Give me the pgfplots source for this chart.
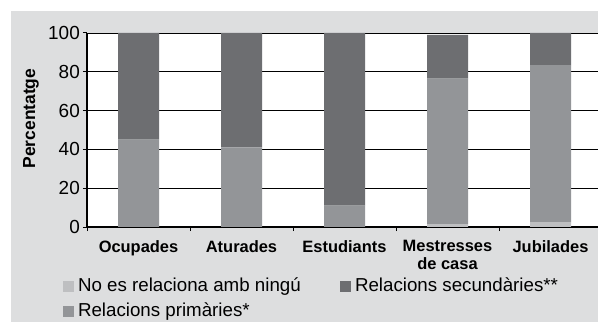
\documentclass[border=0pt]{standalone}
\usepackage{fontspec}
\setmainfont{Liberation Sans}
\usepackage{pgfplots}
\pgfplotsset{compat=1.18}
\definecolor{bgc}{RGB}{221,222,223}
\definecolor{cnone}{RGB}{190,191,193}
\definecolor{cprim}{RGB}{147,149,152}
\definecolor{csec}{RGB}{109,110,113}
\begin{document}
\begin{tikzpicture}
\path[use as bounding box] (0,0) rectangle (598bp,322bp);
\fill[bgc] (11bp,0) rectangle (598bp,311bp);
\begin{axis}[
  at={(87bp,95bp)}, anchor=south west,
  scale only axis, width=511bp, height=194bp,
  axis background/.style={fill=white},
  ybar stacked, bar width=41bp,
  xmin=-0.5, xmax=4.461, ymin=0, ymax=100,
  ytick={0,20,...,100},
  xtick={0,...,4},
  xticklabels={Ocupades,Aturades,Estudiants,{Mestresses\\de casa},Jubilades},
  minor xtick={-0.5,0.5,1.5,2.5,3.5},
  major x tick style={draw=none},
  tick align=outside,
  major tick length=4bp, minor tick length=4bp,
  tick style={black, line width=1bp},
  axis x line*=bottom, axis y line*=left,
  axis line style={-, black, line width=1.3bp},
  ymajorgrids, grid style={black, line width=0.9bp},
  /pgf/number format/assume math mode=true,
  yticklabel style={font=\fontsize{19}{20}\selectfont, inner sep=0pt, xshift=-3bp},
  xticklabel style={font=\fontsize{16.5}{18}\selectfont\bfseries, align=center, inner sep=0pt, yshift=-9bp},
  ylabel={Percentatge},
  ylabel style={font=\fontsize{17.5}{18}\selectfont\bfseries, at={(axis description cs:-0.1096,0.559)}, anchor=center, rotate=0},
  legend columns=2, transpose legend,
  legend image code/.code={\fill[#1] (0bp,-5.5bp) rectangle (11bp,6bp);},
  legend style={at={(axis description cs:-0.04697,-0.2613)}, anchor=north west,
    draw=none, fill=none, inner sep=0pt, outer sep=0pt,
    font=\fontsize{18.8}{22}\selectfont,
    row sep=7bp,
    nodes={inner sep=0pt, text height=14bp, text depth=4bp},
    /tikz/every odd column/.append style={column sep=4bp}},
  legend cell align=left,
]
\addplot[fill=cnone, draw=none] coordinates {(0,0) (1,0) (2,0) (3,1.5) (4,2.5)};
\addlegendentry{\makebox[262bp][l]{No es relaciona amb ningú}}
\addplot[fill=cprim, draw=none] coordinates {(0,45) (1,41) (2,11) (3,75) (4,81)};
\addlegendentry{\makebox[262bp][l]{Relacions primàries*}}
\addplot[fill=csec, draw=none] coordinates {(0,55) (1,59) (2,89) (3,22.5) (4,16.5)};
\addlegendentry{Relacions secundàries**}
\end{axis}
\end{tikzpicture}
\end{document}
